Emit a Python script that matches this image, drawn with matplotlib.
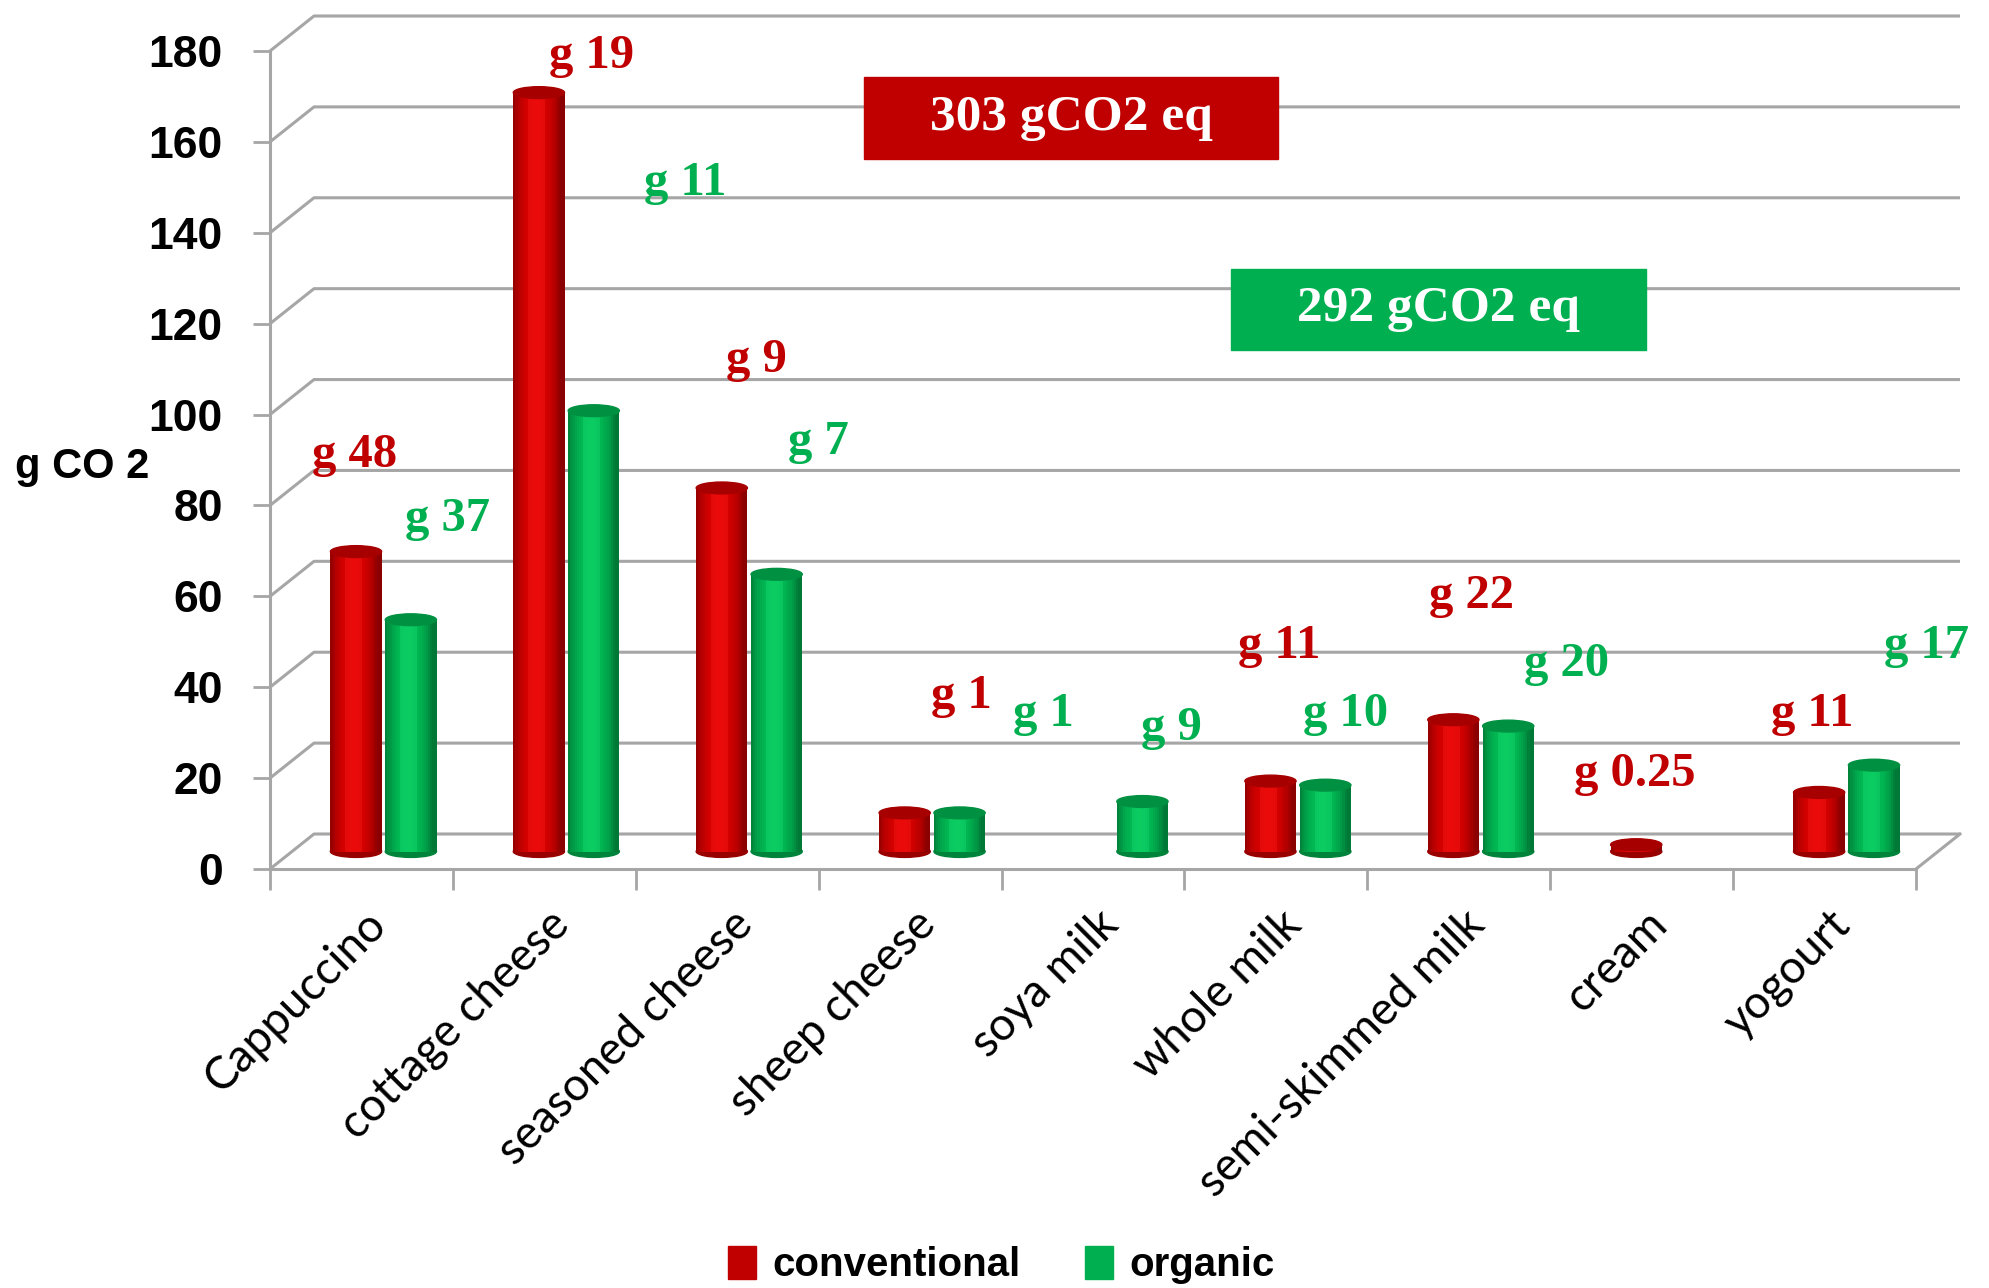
import numpy as np
import matplotlib
matplotlib.use("Agg")
import matplotlib.pyplot as plt
from matplotlib.patches import Rectangle, Ellipse, Patch

# data
categories = ["Cappuccino", "cottage cheese", "seasoned cheese", "sheep cheese",
              "soya milk", "whole milk", "semi-skimmed milk", "cream", "yogourt"]
conventional = [66, 167, 80, 8.5, 0, 15.5, 29, 1.5, 13]
organic = [51, 97, 61, 8.5, 11, 14.6, 27.6, 0, 19]
conv_labels = ["g 48", "g 19", "g 9", "g 1", "", "g 11", "g 22", "g 0.25", "g 11"]
org_labels = ["g 37", "g 11", "g 7", "g 1", "g 9", "g 10", "g 20", "", "g 17"]
yticks = [0, 20, 40, 60, 80, 100, 120, 140, 160, 180]
total_conv = "303 gCO2 eq"
total_org = "292 gCO2 eq"

# where the per-bar notes sit (data coords)
conv_label_pos = [(0.465, 91), (1.76, 179), (2.66, 112), (3.78, 38), None,
                  (5.52, 49), (6.57, 60), (7.46, 21), (8.43, 34)]
org_label_pos = [(0.97, 77), (2.27, 151), (3.0, 94), (4.23, 34), (4.93, 31),
                 (5.88, 34), (7.09, 45), None, (9.06, 49)]

RED = np.array([0.80, 0.0, 0.0])
GREEN = np.array([0.0, 0.69, 0.31])
GRID = "#a6a6a6"

W, H = 1990, 1288
fig = plt.figure(figsize=(W / 100, H / 100), dpi=100)
ax = fig.add_axes([270 / W, 419 / H, 1646 / W, 818 / H])
ax.set_xlim(0, 9)
ax.set_ylim(0, 180)

# depth of the fake 3d box, in data units
px_x = 1646 / 9.0
px_y = 818 / 180.0
dxd = 44 / px_x
dyd = 35 / px_y
dxb = dxd / 2
dyb = dyd / 2

# back wall gridlines + diagonals
for v in yticks:
    ax.plot([0, dxd, 9 + dxd], [v, v + dyd, v + dyd], color=GRID, lw=2.2,
            clip_on=False, zorder=1, solid_capstyle="butt")
ax.plot([9, 9 + dxd], [0, dyd], color=GRID, lw=2.2, clip_on=False, zorder=1)

for s in ["top", "right"]:
    ax.spines[s].set_visible(False)
for s in ["left", "bottom"]:
    ax.spines[s].set_color(GRID)
    ax.spines[s].set_linewidth(2.2)

ax.set_yticks(yticks)
ax.set_yticklabels([str(v) for v in yticks], fontsize=32, fontweight="bold",
                   family=["Liberation Sans Narrow", "Liberation Sans"])
ax.tick_params(axis="y", length=12, width=2, color=GRID, pad=22)
ax.set_xticks(range(10))
ax.set_xticklabels([])
ax.tick_params(axis="x", length=15, width=2, color=GRID)


def shade(base, n=24):
    t = (np.arange(n) + 0.5) / n
    m = 0.68 + 0.42 * np.sin(np.pi * np.clip(t * 1.1, 0, 1)) ** 0.7
    return [tuple(np.clip(base * k + (0.04 if k > 1.05 else 0), 0, 1)) for k in m]


def cylinder(xc, h, base, w=0.28, n=24):
    if h <= 0:
        return
    eh = 2.6
    cols = shade(base, n)
    xs = xc - w / 2 + (np.arange(n) + 0.5) * w / n
    ax.add_patch(Ellipse((xc, dyb), w, eh, color=tuple(base * 0.75), zorder=3,
                         clip_on=False))
    ax.bar(xs, [h] * n, width=w / n * 1.02, bottom=dyb, color=cols, lw=0,
           zorder=3)
    ax.add_patch(Ellipse((xc, h + dyb), w, eh, color=tuple(base * 0.82), zorder=4,
                         clip_on=False))


for i in range(len(categories)):
    cylinder(i + 0.5 - 0.15 + dxb, conventional[i], RED)
    cylinder(i + 0.5 + 0.15 + dxb, organic[i], GREEN)

serif = dict(family=["Liberation Serif", "DejaVu Serif"], fontweight="bold",
             fontsize=35, ha="center", va="center", zorder=6)
for lab, pos in zip(conv_labels, conv_label_pos):
    if pos is not None and lab:
        ax.text(pos[0], pos[1], lab, color="#c00000", clip_on=False, **serif)
for lab, pos in zip(org_labels, org_label_pos):
    if pos is not None and lab:
        ax.text(pos[0], pos[1], lab, color="#00b050", clip_on=False, **serif)

# category labels
for i, cat in enumerate(categories):
    ax.text(i + 0.52, -7.5, cat, rotation=45, rotation_mode="anchor",
            ha="right", va="top", fontsize=33, family=["Lato", "DejaVu Sans"],
            clip_on=False)

# totals
for (x0, y0, x1, y1), txt, col in [((864, 77, 1278, 159), total_conv, "#c00000"),
                                   ((1231, 269, 1646, 350), total_org, "#00b050")]:
    fig.add_artist(Rectangle((x0 / W, 1 - y1 / H), (x1 - x0) / W, (y1 - y0) / H,
                             transform=fig.transFigure, color=col, zorder=5))
    fig.text((x0 + x1) / 2 / W, 1 - (y0 + y1) / 2 / H, txt, color="white",
             ha="center", va="center", fontsize=37, fontweight="bold",
             family=["Liberation Serif", "DejaVu Serif"], zorder=6)

fig.text(15 / W, 1 - 467 / H, "g CO 2", fontsize=30, fontweight="bold",
         family=["Liberation Sans", "DejaVu Sans"], ha="left", va="center")

handles = [Patch(color="#c00000"), Patch(color="#00b050")]
fig.legend(handles, ["conventional", "organic"], loc="center",
           bbox_to_anchor=(0.503, 0.018), ncol=2, frameon=False,
           handlelength=0.7, handleheight=0.9, handletextpad=0.4,
           columnspacing=1.6,
           prop=dict(family=["Liberation Sans", "DejaVu Sans"], weight="bold", size=29))

fig.savefig("out.png", dpi=100)
